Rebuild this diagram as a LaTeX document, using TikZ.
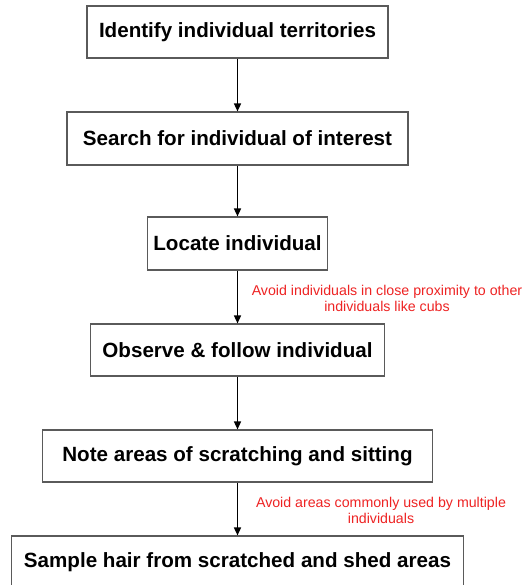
\documentclass[tikz,border=0pt]{standalone}
\usepackage{fontspec}
\setmainfont{Liberation Sans}
\usetikzlibrary{arrows.meta}
\definecolor{boxgray}{RGB}{90,90,90}
\definecolor{notered}{RGB}{238,35,35}
\tikzset{
  stepbox/.style={draw=boxgray, line width=1.1pt, fill=white, inner sep=0pt,
    font=\fontsize{20.6}{24}\selectfont\bfseries},
  flow/.style={draw=black, line width=1.5pt, -{Triangle[length=8pt,width=7pt]}},
  note/.style={text=notered, align=center, inner sep=0pt,
    font=\fontsize{14.2}{16}\selectfont}
}
\begin{document}
\begin{tikzpicture}[x=1pt,y=1pt]
\useasboundingbox (0,0) rectangle (525,585);
\clip (0,0) rectangle (525,585);
\fill[white] (0,0) rectangle (525,585);
\node[stepbox, minimum width=301pt, minimum height=52pt] (b1) at (237.5,553) {Identify individual territories};
\node[stepbox, minimum width=341pt, minimum height=53pt] (b2) at (237.5,446.5) {Search for individual of interest};
\node[stepbox, minimum width=180pt, minimum height=53pt] (b3) at (237.5,341.5) {Locate individual};
\node[stepbox, minimum width=294pt, minimum height=52pt] (b4) at (237.5,235) {Observe \& follow individual};
\node[stepbox, minimum width=390pt, minimum height=52pt] (b5) at (237.5,129) {Note areas of scratching and sitting};
\node[stepbox, minimum width=452pt, minimum height=52pt] (b6) at (237.5,23) {Sample hair from scratched and shed areas};
\draw[flow] (b1) -- (b2);
\draw[flow] (b2) -- (b3);
\draw[flow] (b3) -- (b4);
\draw[flow] (b4) -- (b5);
\draw[flow] (b5) -- (b6);
\node[note] (n1) at (387,287) {Avoid individuals in close proximity to other\\individuals like cubs};
\node[note] (n2) at (381,75) {Avoid areas commonly used by multiple\\individuals};
\end{tikzpicture}
\end{document}
